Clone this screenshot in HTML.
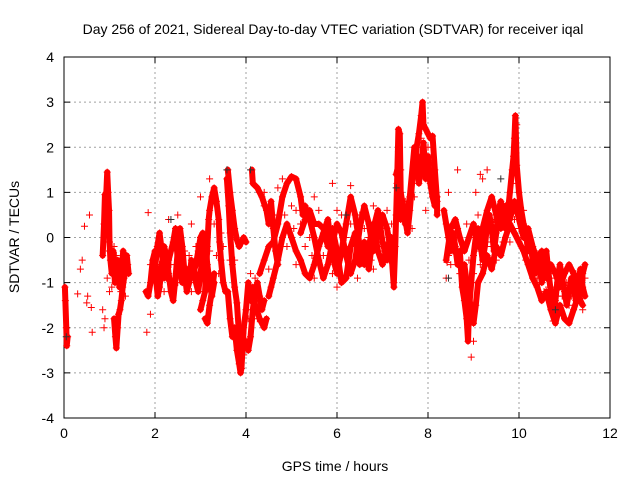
<!DOCTYPE html>
<html><head><meta charset="utf-8"><style>
body{margin:0;background:#fff}
svg{display:block;font-family:"Liberation Sans",sans-serif}
</style></head><body>
<svg id="chart" width="640" height="480">
<rect width="640" height="480" fill="#fff"/>
<text x="333" y="34" font-size="14" text-anchor="middle">Day 256 of 2021, Sidereal Day-to-day VTEC variation (SDTVAR) for receiver iqal</text>
<g id="grid"></g>
<g id="axes"></g>
<g id="marks"></g>
<text x="335" y="471" font-size="14" text-anchor="middle">GPS time / hours</text>
<text transform="translate(19,237) rotate(-90)" font-size="14" text-anchor="middle">SDTVAR / TECUs</text>
</svg>
<script>
const xTicks=[0,2,4,6,8,10,12];
const yTicks=[-4,-3,-2,-1,0,1,2,3,4];
const trackA=[[0.02,-1.1],[0.03,-1.4],[0.05,-2.0],[0.06,-2.4],[0.08,-2.2]];
const trackB=[[0.85,-0.4],[0.88,0.3],[0.9,0.95],[0.93,1.0],[0.95,1.45],[0.97,1.0],[0.99,0.6],[1.0,-0.1],[1.02,-0.5],[1.05,-0.8],[1.08,-0.3],[1.1,-0.7],[1.12,-1.0],[1.15,-0.9],[1.18,-0.5],[1.2,-0.7],[1.22,-1.1],[1.25,-0.9],[1.28,-0.6],[1.3,-0.3],[1.32,-0.7]];
const trackC=[[1.1,-1.8],[1.13,-2.2],[1.15,-2.45],[1.18,-2.0],[1.2,-1.7],[1.23,-1.6],[1.26,-1.4],[1.29,-1.1],[1.32,-0.9],[1.35,-0.7],[1.38,-0.4],[1.4,-0.6],[1.42,-0.8]];
const trackD=[[1.8,-1.2],[1.85,-1.3],[1.9,-1.0],[1.95,-0.5],[2.0,-0.3],[2.03,-1.0],[2.06,-1.3],[2.1,-1.1],[2.15,-0.6],[2.2,-0.2],[2.25,-0.4],[2.3,-0.8],[2.35,-1.2],[2.4,-1.4],[2.45,-0.9],[2.5,-0.3],[2.55,0.2],[2.6,-0.2],[2.65,-0.8],[2.7,-1.2],[2.75,-1.0],[2.8,-0.5],[2.85,-0.6],[2.9,-1.0],[2.95,-1.2],[3.0,-0.8],[3.05,-0.4],[3.1,-0.1],[3.15,-0.6],[3.2,-1.0],[3.25,-1.3],[3.3,-1.0]];
const trackD2=[[1.95,-0.9],[2.0,-0.7],[2.05,-0.2],[2.1,0.1],[2.15,-0.3],[2.2,-0.9],[2.3,-0.5],[2.4,-0.1],[2.45,0.2],[2.5,-0.5],[2.6,-1.0],[2.7,-0.7],[2.8,-0.9],[2.9,-0.6],[2.95,-0.3],[3.0,0.0],[3.05,0.1],[3.1,-0.4]];
const trackE=[[3.0,-1.6],[3.05,-1.4],[3.1,-1.2],[3.15,-0.2],[3.18,0.4],[3.2,0.6],[3.25,0.9],[3.3,1.1],[3.35,0.8],[3.4,0.4],[3.42,-0.1],[3.45,-0.5],[3.5,-1.0],[3.55,-1.2]];
const trackF=[[3.1,-1.8],[3.15,-1.9],[3.2,-1.5],[3.25,-1.2],[3.3,-0.8]];
const trackG=[[3.6,1.5],[3.65,1.0],[3.7,0.6],[3.75,0.2],[3.8,-0.05],[3.85,-0.2],[3.9,-0.1],[3.95,0.0],[4.0,-0.1]];
const trackG2=[[3.58,1.3],[3.62,0.7],[3.65,0.1],[3.7,-0.6],[3.75,-1.1],[3.8,-1.45],[3.85,-2.2],[3.88,-2.9]];
const trackL=[[3.6,-1.2],[3.65,-1.8],[3.7,-2.2],[3.75,-2.0],[3.8,-2.5],[3.85,-2.8],[3.88,-3.0],[3.9,-2.9],[3.95,-2.0],[4.0,-1.6],[4.05,-1.0],[4.1,-1.4],[4.15,-1.1],[4.2,-1.5],[4.3,-1.8],[4.4,-2.0],[4.45,-1.8]];
const trackL2=[[4.0,-2.3],[4.05,-2.5],[4.1,-2.2],[4.15,-1.6],[4.2,-1.2],[4.25,-1.0],[4.3,-1.3],[4.35,-1.6],[4.4,-1.4]];
const trackI=[[4.13,1.5],[4.15,1.2],[4.25,1.1],[4.35,0.9],[4.45,0.6],[4.5,0.3],[4.55,0.8],[4.6,0.2],[4.65,-0.3],[4.7,-0.6]];
const trackJ=[[4.3,-0.8],[4.4,-0.5],[4.5,-0.2],[4.6,-0.1],[4.7,0.3],[4.8,0.9],[4.9,1.2],[5.0,1.35],[5.1,1.3],[5.2,0.9],[5.25,0.5],[5.3,0.7],[5.4,0.4],[5.5,0.0],[5.6,-0.5],[5.7,-0.9],[5.8,-0.6],[5.9,-0.1],[6.0,0.3],[6.1,0.1],[6.2,-0.4],[6.3,-0.8],[6.4,-0.5],[6.5,0.2],[6.6,0.7],[6.7,0.3],[6.8,-0.3],[6.9,0.1],[7.0,0.5],[7.1,0.2],[7.2,-0.4],[7.25,-1.1]];
const trackK=[[4.5,-1.3],[4.6,-0.9],[4.7,-0.5],[4.8,0.0],[4.9,0.3],[5.0,0.0],[5.1,-0.3],[5.2,-0.5],[5.3,-0.8],[5.4,-0.9],[5.5,-0.6],[5.6,-0.2],[5.7,0.1],[5.8,0.4],[5.9,-0.4],[6.0,-0.8],[6.1,-0.3],[6.2,0.3],[6.3,0.9],[6.4,0.5],[6.5,-0.2],[6.6,-0.6],[6.7,-0.2],[6.8,0.3],[6.9,-0.3],[7.0,-0.6],[7.1,-0.2],[7.2,0.0]];
const trackK2=[[5.2,0.1],[5.3,0.4],[5.4,0.6],[5.5,0.3],[5.6,0.3],[5.7,0.2],[5.8,-0.2],[5.9,0.2],[6.0,-0.3],[6.1,-1.0],[6.2,-0.9],[6.3,-0.2],[6.4,0.1],[6.5,-0.6],[6.6,-0.1],[6.7,-0.7],[6.8,0.2],[6.9,0.6],[7.0,-0.1],[7.1,-0.5]];
const trackM=[[7.25,-1.0],[7.28,-0.2],[7.3,0.5],[7.32,1.2],[7.35,2.4],[7.38,2.3],[7.4,1.0],[7.45,0.7],[7.5,0.4],[7.55,0.1],[7.6,0.6],[7.65,1.2],[7.7,1.6],[7.75,2.0],[7.8,2.3],[7.85,2.7],[7.88,3.0],[7.9,2.5],[7.95,2.4],[8.0,2.3],[8.05,2.2],[8.1,2.25],[8.15,1.5],[8.2,0.8],[8.2,0.5]];
const trackM2=[[7.3,1.4],[7.35,1.6],[7.4,0.4],[7.45,0.7],[7.5,0.3],[7.6,0.9],[7.7,2.0],[7.75,1.8],[7.8,1.2],[7.85,1.6],[7.9,2.1],[7.95,1.3],[8.0,1.8],[8.05,1.2],[8.1,0.9],[8.15,0.7],[8.2,0.9]];
const trackH=[[8.35,0.6],[8.4,0.3],[8.45,0.0],[8.5,-0.3],[8.55,0.1],[8.6,-0.2],[8.65,-0.6],[8.7,-0.3],[8.75,-1.1],[8.8,-1.4],[8.85,-1.8],[8.88,-2.3],[8.9,-1.6],[8.95,-1.0],[9.0,-0.4],[9.05,0.0],[9.1,0.2],[9.15,-0.1],[9.2,-0.5],[9.25,-0.2],[9.3,0.3],[9.35,0.5],[9.4,0.2],[9.45,-0.3],[9.5,0.1],[9.55,0.6],[9.6,0.8],[9.65,0.5],[9.7,0.2],[9.75,0.5],[9.8,1.0],[9.85,1.5],[9.88,1.8],[9.9,2.2],[9.92,2.7],[9.95,1.6],[10.0,1.0],[10.05,0.6],[10.1,0.3],[10.15,0.1],[10.2,-0.3],[10.25,-0.1],[10.3,-0.5],[10.35,-0.8],[10.4,-0.4],[10.45,-0.6],[10.5,-1.0],[10.55,-0.7],[10.6,-0.3],[10.65,-0.8],[10.7,-1.2],[10.75,-1.7],[10.8,-1.4],[10.85,-0.9],[10.9,-0.6],[10.95,-0.9],[11.0,-1.2],[11.05,-1.5],[11.1,-1.2],[11.15,-0.9],[11.2,-1.1],[11.25,-1.4],[11.3,-1.0],[11.35,-0.7],[11.4,-1.1],[11.45,-1.3]];
const trackH2=[[8.4,-0.5],[8.5,0.2],[8.6,0.4],[8.7,0.0],[8.8,-0.3],[8.9,0.0],[9.0,0.3],[9.1,-0.2],[9.2,0.2],[9.3,0.6],[9.4,0.9],[9.5,0.5],[9.6,0.2],[9.7,0.7],[9.8,0.4],[9.9,0.8],[10.0,0.4],[10.1,0.0],[10.2,0.2],[10.3,-0.2],[10.4,-0.5],[10.5,-0.3],[10.6,-0.9],[10.7,-0.6],[10.8,-0.8],[10.9,-1.1],[11.0,-0.8],[11.1,-0.6],[11.2,-0.8],[11.3,-1.4],[11.4,-0.8],[11.45,-0.6]];
const trackH3=[[8.8,-0.6],[8.85,-1.0],[8.9,-1.3],[8.95,-1.6],[9.0,-1.9],[9.05,-1.5],[9.1,-1.0],[9.2,-0.8],[9.3,-0.4],[9.4,-0.7],[9.5,-0.2],[9.6,-0.4],[9.7,0.0],[9.8,0.3],[9.9,0.1],[10.0,-0.1],[10.1,-0.3],[10.2,-0.6],[10.3,-0.9],[10.4,-1.1],[10.5,-1.4],[10.6,-1.2],[10.7,-1.6],[10.8,-1.9],[10.9,-1.5],[11.0,-1.8],[11.1,-1.9],[11.2,-1.6],[11.3,-1.3],[11.4,-1.5]];
const scatterPts=[[0.3,-1.25],[0.36,-0.7],[0.4,-0.5],[0.45,0.25],[0.5,-1.45],[0.52,-1.3],[0.56,0.5],[0.6,-1.55],[0.62,-2.1],[0.85,-1.6],[0.88,-2.0],[0.9,-1.8],[0.95,-0.9],[1.0,-1.2],[1.05,-0.6],[1.82,-2.1],[1.85,0.55],[1.9,-1.7],[2.3,0.4],[2.5,0.5],[2.8,0.3],[3.0,0.9],[3.2,1.3],[4.4,1.0],[5.1,0.6],[5.5,0.9],[5.9,1.2],[6.3,1.15],[6.0,-1.1],[6.8,0.7],[7.0,0.3],[7.95,0.6],[8.45,1.0],[8.65,1.5],[8.95,-2.65],[9.0,-2.3],[9.05,1.0],[9.15,1.4],[9.2,1.3],[9.3,1.5],[8.42,-0.55],[8.4,-0.9],[9.95,2.5],[11.4,-1.6],[10.75,-1.85]];
const cloudPts=[[1.0,-0.3],[1.05,-1.1],[1.1,-0.2],[1.15,-0.4],[1.25,-1.2],[1.3,-1.0],[1.35,-1.3],[1.9,-0.6],[2.0,-1.0],[2.1,-0.6],[2.2,-1.2],[2.25,-0.9],[2.35,-0.6],[2.4,-0.9],[2.5,-1.0],[2.55,-0.7],[2.6,-0.6],[2.65,-0.3],[2.75,-0.4],[2.8,-1.2],[2.9,-0.2],[3.0,-0.4],[3.05,-0.9],[3.1,-0.7],[3.2,-0.3],[3.3,0.3],[3.35,-0.4],[3.4,-0.8],[3.45,0.1],[3.5,-0.2],[3.65,-0.5],[3.7,0.0],[3.75,-0.5],[3.8,-2.0],[3.9,-2.4],[3.95,-2.6],[4.05,-1.8],[4.1,-0.8],[4.2,-0.9],[4.25,-1.8],[4.3,1.0],[4.4,0.7],[4.5,-0.7],[4.55,-1.1],[4.6,0.5],[4.7,1.1],[4.8,1.3],[4.85,0.5],[4.9,-0.2],[5.0,0.7],[5.05,0.2],[5.1,-0.6],[5.2,0.3],[5.3,-0.2],[5.4,0.0],[5.45,-0.4],[5.5,-0.9],[5.6,0.6],[5.7,-0.4],[5.8,0.0],[5.9,-0.8],[6.0,0.6],[6.05,-0.5],[6.1,0.5],[6.2,0.0],[6.25,-0.7],[6.3,0.3],[6.4,-0.1],[6.45,-0.9],[6.5,0.5],[6.55,-0.4],[6.6,0.2],[6.7,0.0],[6.75,-0.5],[6.8,-0.7],[6.9,-0.2],[6.95,0.4],[7.05,-0.3],[7.1,0.6],[7.15,-0.5],[7.2,0.3],[7.35,1.9],[7.4,1.5],[7.5,0.8],[7.55,0.5],[7.65,0.2],[7.7,0.9],[7.8,1.7],[7.85,2.2],[7.9,1.8],[8.0,2.0],[8.05,1.7],[8.1,1.6],[8.45,-0.4],[8.5,-0.6],[8.55,-0.3],[8.6,0.1],[8.65,0.2],[8.7,-0.8],[8.75,-0.1],[8.8,-0.9],[8.85,0.3],[8.9,-0.5],[8.95,0.1],[9.0,-0.8],[9.05,-0.3],[9.1,0.5],[9.15,-0.6],[9.2,0.0],[9.3,-0.1],[9.4,-0.2],[9.45,0.4],[9.5,-0.5],[9.6,0.5],[9.65,-0.1],[9.7,0.4],[9.8,-0.1],[9.85,0.7],[9.9,0.4],[9.95,1.2],[10.0,0.2],[10.05,-0.2],[10.1,0.6],[10.15,-0.5],[10.2,0.1],[10.25,-0.7],[10.3,-0.2],[10.35,-0.3],[10.4,-0.9],[10.45,-1.0],[10.5,-0.6],[10.55,-1.2],[10.6,-0.6],[10.65,-1.1],[10.7,-0.9],[10.75,-1.2],[10.8,-1.1],[10.85,-1.3],[10.9,-0.9],[10.95,-1.3],[11.0,-1.0],[11.05,-1.0],[11.1,-1.5],[11.15,-1.3],[11.2,-1.3],[11.25,-0.8],[11.3,-1.1],[11.35,-1.2],[11.4,-1.3],[11.45,-0.9]];
const blackPts=[[0.05,-2.2],[2.35,0.4],[3.58,1.5],[4.1,1.5],[6.2,0.5],[7.3,1.1],[8.45,-0.9],[9.6,1.3],[10.8,-1.6]];
const tracks=[trackA,trackB,trackC,trackD,trackD2,trackE,trackF,trackG,trackG2,trackL,trackL2,trackI,trackJ,trackK,trackK2,trackM,trackM2,trackH,trackH2,trackH3];

const X0=64,X1=610,Y0=418,Y1=57;
function sx(t){return X0+(t-0)/(12-0)*(X1-X0);}
function sy(v){return Y0-(v+4)/8*(Y0-Y1);}
const NS='http://www.w3.org/2000/svg';
function mk(tag,attrs,parent){const e=document.createElementNS(NS,tag);for(const k in attrs)e.setAttribute(k,attrs[k]);parent.appendChild(e);return e;}
const grid=document.getElementById('grid'),axes=document.getElementById('axes'),marks=document.getElementById('marks');
xTicks.forEach(t=>{
  const x=sx(t);
  if(t>0&&t<12){const g=mk('line',{x1:x,y1:Y1,x2:x,y2:Y0,stroke:'#a0a0a0','stroke-dasharray':'2,3','stroke-width':1},grid);
  
  }
  mk('line',{x1:x,y1:Y0,x2:x,y2:Y0-6,stroke:'#000'},axes);
  mk('line',{x1:x,y1:Y1,x2:x,y2:Y1+6,stroke:'#000'},axes);
  const tx=mk('text',{x:x,y:Y0+20,'font-size':14,'text-anchor':'middle'},axes);
  tx.textContent=t;
  
  
});
yTicks.forEach(v=>{
  const y=sy(v);
  if(v>-4&&v<4){const g=mk('line',{x1:X0,y1:y,x2:X1,y2:y,stroke:'#a0a0a0','stroke-dasharray':'2,3','stroke-width':1},grid);
  
  }
  mk('line',{x1:X0,y1:y,x2:X0+6,y2:y,stroke:'#000'},axes);
  mk('line',{x1:X1,y1:y,x2:X1-6,y2:y,stroke:'#000'},axes);
  const tx=mk('text',{x:X0-10,y:y+5,'font-size':14,'text-anchor':'end'},axes);
  tx.textContent=v;
  
  
});
const frame=mk('rect',{x:X0,y:Y1,width:X1-X0,height:Y0-Y1,fill:'none',stroke:'#000'},axes);


function plus(t,v,col){
  const x=sx(t),y=sy(v);
  const p=mk('path',{d:`M${x-3.5},${y}h7M${x},${y-3.5}v7`,stroke:col,'stroke-width':1,fill:'none'},marks);
  
  
}
tracks.forEach(tr=>{
  const pl=mk('polyline',{points:tr.map(p=>sx(p[0])+','+sy(p[1])).join(' '),stroke:'#f00','stroke-width':6,fill:'none','stroke-linejoin':'round','stroke-linecap':'round'},marks);
  
  
  tr.forEach(p=>plus(p[0],p[1],'#f00'));
});
scatterPts.forEach(p=>plus(p[0],p[1],'#f00'));
cloudPts.forEach(p=>plus(p[0],p[1],'#f00'));
blackPts.forEach(p=>plus(p[0],p[1],'#333'));
</script>
</body></html>
